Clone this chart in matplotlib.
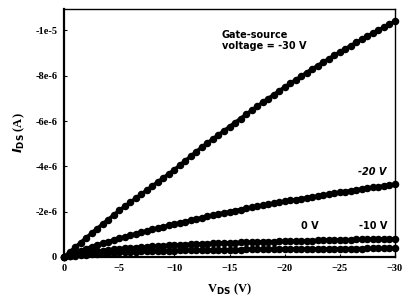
import numpy as np
import matplotlib
matplotlib.use("Agg")
import matplotlib.pyplot as plt
from matplotlib.ticker import FixedLocator, FixedFormatter

# drain-source voltage sweep (V) and drain current (A) per gate voltage
vds = [0, -2.5, -5, -7.5, -10, -12.5, -15, -17.5, -20, -22.5, -25, -27.5, -30]
ids_m30 = [0, -1.05e-6, -2.05e-6, -2.95e-6, -3.85e-6, -4.85e-6, -5.75e-6, -6.65e-6,
           -7.5e-6, -8.3e-6, -9.05e-6, -9.75e-6, -10.4e-6]
ids_m20 = [0, -0.45e-6, -0.82e-6, -1.15e-6, -1.45e-6, -1.73e-6, -2.0e-6, -2.23e-6,
           -2.45e-6, -2.65e-6, -2.85e-6, -3.03e-6, -3.2e-6]
ids_m10 = [0, -0.22e-6, -0.36e-6, -0.45e-6, -0.52e-6, -0.58e-6, -0.62e-6, -0.66e-6,
           -0.69e-6, -0.72e-6, -0.75e-6, -0.78e-6, -0.8e-6]
ids_0 = [0, -0.12e-6, -0.2e-6, -0.25e-6, -0.28e-6, -0.3e-6, -0.32e-6, -0.33e-6,
         -0.34e-6, -0.35e-6, -0.36e-6, -0.37e-6, -0.38e-6]

xticks = [0, -5, -10, -15, -20, -25, -30]
yticks = [0, -2e-6, -4e-6, -6e-6, -8e-6, -1e-5]
ylabels = ["0", "-2e-6", "-4e-6", "-6e-6", "-8e-6", "-1e-5"]

# measured points were taken every 0.5 V
v_fine = np.arange(0, -30.01, -0.5)

fig = plt.figure(figsize=(4.03, 2.98), dpi=100)
ax = fig.add_axes([0.159, 0.138, 0.821, 0.832])

for ids in [ids_m30, ids_m20, ids_m10, ids_0]:
    y = np.interp(-v_fine, -np.array(vds), ids)
    ax.plot(v_fine, y, color="black", lw=2.6, marker="o", ms=4.4,
            mec="black", mfc="black", clip_on=False)

ax.set_xlim(0, -30)
ax.set_ylim(0, -1.095e-5)
ax.xaxis.set_major_locator(FixedLocator(xticks))
ax.yaxis.set_major_locator(FixedLocator(yticks))
ax.yaxis.set_major_formatter(FixedFormatter(ylabels))

tick_font = dict(family="Liberation Serif", weight="bold", size=7.5)
for lab in ax.get_xticklabels() + ax.get_yticklabels():
    lab.set(**tick_font)
ax.tick_params(direction="in", length=2, width=0.8, pad=5)

for side in ["left", "bottom"]:
    ax.spines[side].set_linewidth(1.6)
for side in ["top", "right"]:
    ax.spines[side].set_linewidth(1.0)

ax.set_xlabel(r"V$_{\mathbf{DS}}$ (V)", family="Liberation Serif",
              weight="bold", size=9, labelpad=6)
ax.set_ylabel(r"$\boldsymbol{I}$$_{\mathbf{DS}}$ (A)", family="Liberation Serif",
              weight="bold", size=9, labelpad=6)

ann = dict(family="DejaVu Sans", weight="bold", size=7, transform=ax.transAxes)
ax.text(0.477, 0.915, "Gate-source\nvoltage = -30 V", va="top", ha="left",
        linespacing=1.1, **ann)
ax.text(0.93, 0.343, "-20 V", ha="center", va="center", style="italic", **ann)
ax.text(0.743, 0.125, "0 V", ha="center", va="center", **ann)
ax.text(0.934, 0.125, "-10 V", ha="center", va="center", **ann)

fig.savefig("out.png", dpi=100)
